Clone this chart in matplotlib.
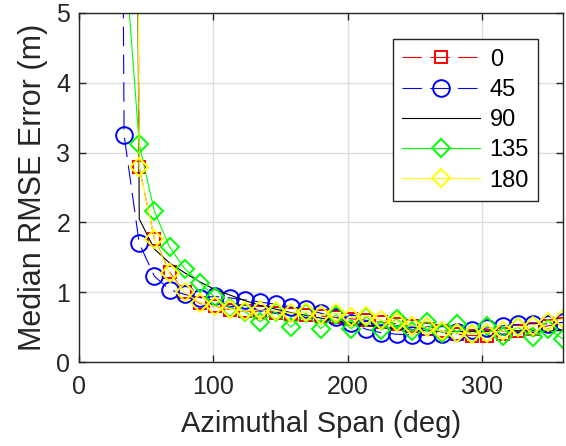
import numpy as np
import matplotlib
matplotlib.use('Agg')
import matplotlib.pyplot as plt

nan = np.nan

# azimuthal span sampled every 11.25 deg
span = [11.25, 22.5, 33.75, 45.0, 56.25, 67.5, 78.75, 90.0,
        101.25, 112.5, 123.75, 135.0, 146.25, 157.5, 168.75, 180.0,
        191.25, 202.5, 213.75, 225.0, 236.25, 247.5, 258.75, 270.0,
        281.25, 292.5, 303.75, 315.0, 326.25, 337.5, 348.75, 360.0]

# median RMSE (m) per source azimuth; values far above 5 are off the top
rmse_0 = [nan, nan, 40.0, 2.79, 1.77, 1.29, 1.00, 0.84,
          0.80, 0.75, 0.73, 0.72, 0.70, 0.69, 0.67, 0.66,
          0.64, 0.62, 0.60, 0.57, 0.55, 0.52, 0.48, 0.44,
          0.40, 0.38, 0.38, 0.40, 0.44, 0.48, 0.52, 0.55]
rmse_45 = [nan, 40.0, 3.25, 1.70, 1.23, 1.04, 0.97, 0.92,
           0.94, 0.92, 0.89, 0.86, 0.83, 0.79, 0.76, 0.70,
           0.64, 0.56, 0.47, 0.42, 0.40, 0.39, 0.39, 0.40,
           0.43, 0.46, 0.49, 0.52, 0.54, 0.55, 0.55, 0.57]
rmse_90 = [nan, nan, 40.0, 2.05, 1.62, 1.42, 1.28, 1.15,
           1.04, 0.96, 0.88, 0.81, 0.76, 0.71, 0.67, 0.63,
           0.59, 0.56, 0.53, 0.50, 0.48, 0.46, 0.45, 0.44,
           0.44, 0.44, 0.44, 0.45, 0.45, 0.45, 0.45, 0.45]
rmse_135 = [nan, nan, 6.00, 3.12, 2.16, 1.65, 1.34, 1.14,
            0.93, 0.78, 0.72, 0.58, 0.72, 0.50, 0.70, 0.48,
            0.68, 0.48, 0.65, 0.46, 0.62, 0.44, 0.58, 0.42,
            0.55, 0.40, 0.52, 0.38, 0.50, 0.36, 0.48, 0.33]
rmse_180 = [nan, nan, 40.0, 2.79, 1.77, 1.27, 1.00, 0.85,
            0.80, 0.76, 0.73, 0.75, 0.73, 0.70, 0.72, 0.68,
            0.70, 0.65, 0.66, 0.60, 0.58, 0.52, 0.50, 0.44,
            0.42, 0.40, 0.42, 0.45, 0.50, 0.52, 0.58, 0.62]

labels = ['0', '45', '90', '135', '180']

plt.rcParams['font.family'] = ['Liberation Sans', 'DejaVu Sans']
plt.rcParams['lines.scale_dashes'] = False

dark = (0.15, 0.15, 0.15)

fig = plt.figure(figsize=(5.66, 4.46), dpi=100)
ax = fig.add_axes([0.139, 0.188, 0.856, 0.783])

ms = 12
mew = 1.4
lw = 0.8
dash = (14, 6)

ax.plot(span, rmse_0, color='red', lw=lw, dashes=dash, marker='s', ms=ms * 0.75,
        mfc='none', mew=mew, label=labels[0])
ax.plot(span, rmse_45, color='blue', lw=lw, dashes=dash, marker='o', ms=ms,
        mfc='none', mew=mew, label=labels[1])
ax.plot(span, rmse_90, color='black', lw=lw, label=labels[2])
ax.plot(span, rmse_135, color=(0, 1, 0), lw=lw, marker='D', ms=ms * 0.8,
        mfc='none', mew=mew, label=labels[3])
ax.plot(span, rmse_180, color=(1, 1, 0), lw=lw, marker='D', ms=ms * 0.8,
        mfc='none', mew=mew, label=labels[4])

ax.set_xlim(0, 360)
ax.set_ylim(0, 5)
ax.set_xticks([0, 100, 200, 300])
ax.set_yticks([0, 1, 2, 3, 4, 5])
ax.grid(True, color=(0.87, 0.87, 0.87), lw=1)
ax.set_axisbelow(True)
ax.tick_params(direction='in', length=5, width=1, colors=dark, labelsize=18,
               top=True, right=True)
ax.tick_params(axis='x', pad=9)
ax.tick_params(axis='y', pad=6)
for s in ax.spines.values():
    s.set_color(dark)
    s.set_linewidth(1)

ax.set_xlabel('Azimuthal Span (deg)', fontsize=21, color=dark, labelpad=8)
ax.set_ylabel('Median RMSE Error (m)', fontsize=22, color=dark, labelpad=6)

leg = ax.legend(loc='upper right', bbox_to_anchor=(0.949, 0.925), borderaxespad=0,
                fontsize=17, handlelength=3.3, numpoints=1, fancybox=False,
                framealpha=1, edgecolor=dark, labelspacing=0.35,
                handletextpad=0.4, borderpad=0.4)
leg.get_frame().set_linewidth(1)

fig.savefig('out.png', dpi=100)
